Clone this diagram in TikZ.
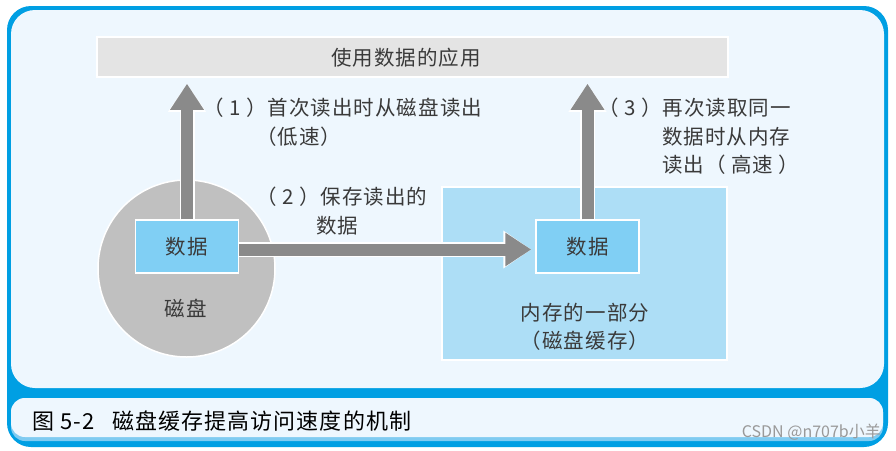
\documentclass[tikz,border=0pt]{standalone}
\usepackage{fontspec}
\setmainfont{Noto Sans CJK SC}[LetterSpace=5]
\newfontfamily\markfont{Noto Sans CJK SC}
\usetikzlibrary{arrows.meta,positioning,shapes}

\definecolor{frameblue}{HTML}{009FE3}
\definecolor{panelbg}{HTML}{EEF7FE}
\definecolor{capshade}{HTML}{7FCBF1}
\definecolor{barfill}{HTML}{E4E4E4}
\definecolor{diskfill}{HTML}{C0C0C0}
\definecolor{datafill}{HTML}{80CFF4}
\definecolor{memfill}{HTML}{ADDEF6}
\definecolor{arrowgray}{HTML}{8A8A8A}
\definecolor{textgray}{HTML}{3A3A3A}

\begin{document}
\begin{tikzpicture}[x=1pt,y=-1pt,
  box/.style={draw=white,line width=1.5pt,inner sep=0pt},
  databox/.style={box,fill=datafill,minimum width=103pt,minimum height=53pt},
  txt/.style={text=textgray,inner sep=0pt,font=\fontsize{20.5}{28.5}\selectfont},
  bigarrow/.style={draw=arrowgray,line width=12pt,-{Triangle[length=26pt,width=32pt]},
    preaction={draw=white,line width=15pt,-{Triangle[length=28pt,width=36pt]}}}]
\useasboundingbox (0,0) rectangle (896,450);
% frame
\fill[frameblue,rounded corners=24pt] (7,6) rectangle (888,447);
\fill[panelbg,rounded corners=24pt] (11,10) rectangle (884,388);
\fill[capshade,rounded corners=14pt] (11,398) rectangle (883,441);
\fill[panelbg,rounded corners=14pt] (11,398) rectangle (883,437);
% nodes
\node[box,fill=barfill,minimum width=631pt,minimum height=40pt] (app) at (412.5,57) {};
\node[txt] (apptext) at (406,58) {使用数据的应用};
\node[box,circle,fill=diskfill,minimum size=177pt] (disk) at (186.5,268.5) {};
\node[box,fill=memfill,minimum width=285pt,minimum height=173pt] (mem) at (584.5,273.5) {};
\node[databox] (d1) at (187,246.5) {};
\node[databox] (d2) at (587.5,246.5) {};
\node[txt] (d1text) at (d1) {数据};
\node[txt] (d2text) at (d2) {数据};
\node[txt] (disktext) at (186,308) {磁盘};
\node[txt,align=center] (memtext) at (585,327) {内存的一部分\\（磁盘缓存）};
% arrows
\draw[bigarrow,shorten >=6pt] (d1.north) -- (d1.north |- app.south);
\draw[bigarrow,shorten >=6pt] (d2.north) -- (d2.north |- app.south);
\draw[bigarrow,shorten >=4pt] ([yshift=-3pt]d1.east) -- ([yshift=-3pt]d2.west);
% labels
\node[txt,align=left,anchor=north west] (lab1) at (203,98) {（ 1 ）首次读出时从磁盘读出\\\hspace*{53pt}（低速）};
\node[txt,align=left,anchor=north west] (lab2) at (256,187) {（ 2 ）保存读出的\\\hspace*{60pt}数据};
\node[txt,align=left,anchor=north west] (lab3) at (598,98) {（ 3 ）再次读取同一\\\hspace*{64pt}数据时从内存\\\hspace*{64pt}读出（ 高速 ）};
% caption
\node[inner sep=0pt,anchor=west,font=\fontsize{22}{24}\selectfont] (caption) at (32,421) {图 5-2\hspace{0.8em}磁盘缓存提高访问速度的机制};
\node[inner sep=0pt,anchor=east,text=black!40,font=\markfont\fontsize{16}{18}\selectfont] (mark) at (881,432) {CSDN @n707b小羊};
\end{tikzpicture}
\end{document}
